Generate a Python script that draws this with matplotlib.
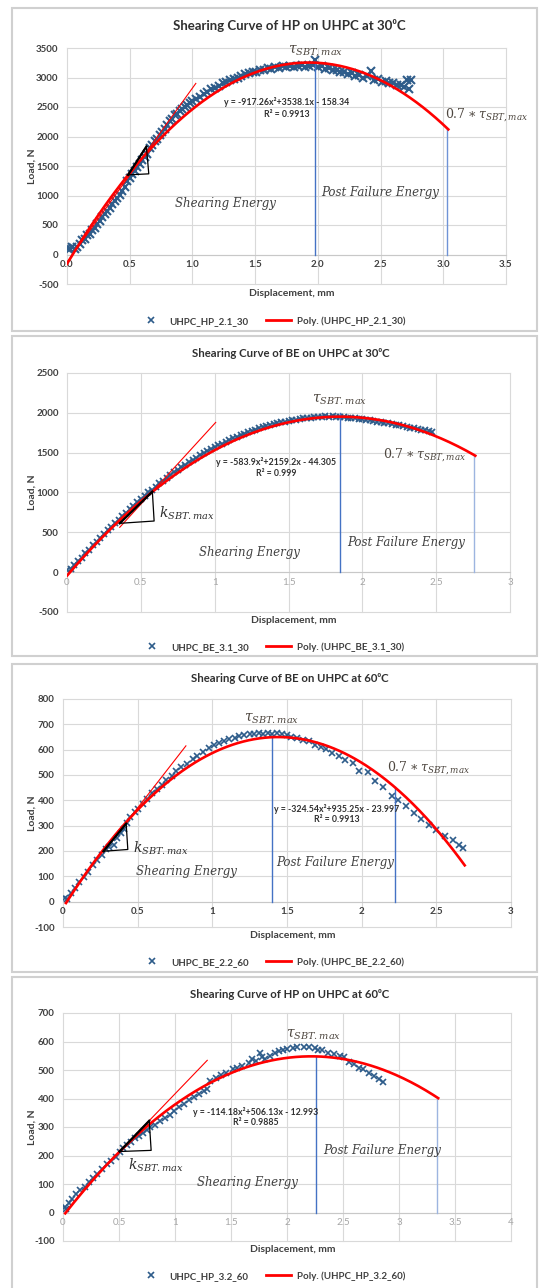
import matplotlib.pyplot as plt
import numpy as np
from matplotlib.lines import Line2D
from matplotlib.patches import Rectangle

plt.rcParams['font.family'] = ['Lato', 'DejaVu Sans']
plt.rcParams['mathtext.fontset'] = 'dejavuserif'

# ---- data ----
hp30_x = [0.00, 0.02, 0.04, 0.06, 0.08, 0.10, 0.12, 0.14, 0.16, 0.18, 0.20, 0.22, 0.24, 0.26,
          0.28, 0.30, 0.32, 0.34, 0.36, 0.38, 0.40, 0.42, 0.44, 0.46, 0.48, 0.50, 0.52, 0.54,
          0.56, 0.58, 0.60, 0.62, 0.64, 0.66, 0.68, 0.70, 0.72, 0.74, 0.76, 0.78, 0.80, 0.82,
          0.84, 0.86, 0.88, 0.90, 0.92, 0.94, 0.96, 0.98, 1.00, 1.03, 1.06, 1.09, 1.12, 1.15,
          1.18, 1.21, 1.24, 1.27, 1.30, 1.33, 1.36, 1.39, 1.42, 1.45, 1.48, 1.51, 1.54, 1.57,
          1.60, 1.63, 1.66, 1.69, 1.72, 1.75, 1.78, 1.81, 1.84, 1.87, 1.90, 1.93, 1.96, 1.98,
          2.00, 2.03, 2.06, 2.09, 2.12, 2.15, 2.18, 2.21, 2.24, 2.27, 2.30, 2.33, 2.36, 2.39,
          2.42, 2.45, 2.48, 2.51, 2.54, 2.57, 2.60, 2.63, 2.66, 2.69, 2.71, 2.73, 2.74]
hp30_y = [110, 90, 120, 100, 130, 170, 240, 260, 330, 350, 420, 450, 520, 560,
          640, 680, 730, 790, 850, 900, 960, 1010, 1080, 1150, 1250, 1300, 1360, 1420,
          1480, 1530, 1600, 1660, 1710, 1800, 1850, 1920, 1960, 2030, 2070, 2120, 2200, 2260,
          2290, 2360, 2380, 2440, 2460, 2500, 2540, 2570, 2600, 2630, 2670, 2720, 2750, 2800,
          2830, 2860, 2900, 2930, 2950, 2970, 2990, 3020, 3060, 3070, 3100, 3090, 3130, 3120,
          3160, 3150, 3180, 3160, 3190, 3170, 3200, 3170, 3190, 3210, 3170, 3200, 3220, 3300,
          3180, 3200, 3150, 3160, 3120, 3130, 3090, 3100, 3060, 3080, 3030, 3050, 3000, 3020,
          3110, 2960, 2970, 2930, 2940, 2900, 2910, 2870, 2880, 2840, 2960, 2800, 2950]

be30_x = [0.000, 0.025, 0.050, 0.075, 0.100, 0.125, 0.150, 0.175, 0.200, 0.225, 0.250, 0.275,
          0.300, 0.325, 0.350, 0.375, 0.400, 0.425, 0.450, 0.475, 0.500, 0.525, 0.550, 0.575,
          0.600, 0.625, 0.650, 0.675, 0.700, 0.725, 0.750, 0.775, 0.800, 0.825, 0.850, 0.875,
          0.900, 0.925, 0.950, 0.975, 1.000, 1.025, 1.050, 1.075, 1.100, 1.125, 1.150, 1.175,
          1.200, 1.225, 1.250, 1.275, 1.300, 1.325, 1.350, 1.375, 1.400, 1.425, 1.450, 1.475,
          1.500, 1.525, 1.550, 1.575, 1.600, 1.625, 1.650, 1.675, 1.700, 1.725, 1.750, 1.775,
          1.800, 1.825, 1.850, 1.875, 1.900, 1.925, 1.950, 1.975, 2.000, 2.025, 2.050, 2.075,
          2.100, 2.125, 2.150, 2.175, 2.200, 2.225, 2.250, 2.275, 2.300, 2.325, 2.350, 2.375,
          2.400, 2.425, 2.450, 2.475]
be30_y = [25, 45, 85, 140, 180, 235, 280, 335, 380, 430, 475, 525,
          565, 615, 655, 700, 745, 790, 835, 875, 915, 960, 1000, 1035,
          1075, 1115, 1150, 1185, 1220, 1255, 1285, 1320, 1350, 1380, 1410, 1435,
          1465, 1490, 1520, 1545, 1570, 1595, 1615, 1640, 1660, 1680, 1700, 1720,
          1740, 1755, 1775, 1790, 1805, 1820, 1835, 1845, 1860, 1870, 1880, 1890,
          1900, 1905, 1915, 1920, 1930, 1935, 1940, 1945, 1945, 1950, 1955, 1950,
          1955, 1950, 1950, 1945, 1940, 1935, 1930, 1925, 1920, 1915, 1905, 1900,
          1890, 1885, 1875, 1870, 1860, 1850, 1845, 1835, 1825, 1815, 1810, 1800,
          1790, 1780, 1775, 1765]

be60_x = [0.015, 0.03, 0.054, 0.08, 0.108, 0.14, 0.17, 0.20, 0.23, 0.26, 0.29, 0.31, 0.34,
          0.36, 0.39, 0.41, 0.43, 0.45, 0.48, 0.50, 0.536, 0.564, 0.597, 0.63, 0.66, 0.69,
          0.727, 0.76, 0.79, 0.83, 0.87, 0.90, 0.94, 0.98, 1.01, 1.045, 1.08, 1.11, 1.15,
          1.18, 1.21, 1.25, 1.28, 1.31, 1.34, 1.37, 1.40, 1.435, 1.468, 1.50, 1.53, 1.57,
          1.61, 1.644, 1.69, 1.726, 1.76, 1.80, 1.85, 1.89, 1.94, 1.98, 2.04, 2.09, 2.14,
          2.20, 2.24, 2.30, 2.35, 2.40, 2.45, 2.50, 2.56, 2.61, 2.65, 2.68]
be60_y = [14, 10, 34, 53, 76, 99, 119, 145, 164, 184, 206, 215, 225,
          250, 270, 285, 310, 334, 353, 366, 386, 405, 428, 445, 461, 480,
          497, 514, 530, 545, 562, 575, 592, 605, 617, 627, 634, 643, 647,
          653, 656, 660, 663, 664, 663, 664, 663, 665, 660, 657, 650, 648,
          638, 634, 618, 610, 601, 588, 574, 559, 546, 516, 510, 477, 454,
          418, 402, 377, 351, 327, 301, 282, 258, 245, 223, 210]

hp60_x = [0.014, 0.03, 0.05, 0.078, 0.115, 0.153, 0.193, 0.23, 0.268, 0.303, 0.346, 0.39,
          0.427, 0.47, 0.505, 0.534, 0.568, 0.606, 0.643, 0.678, 0.713, 0.75, 0.779, 0.822,
          0.865, 0.909, 0.952, 0.995, 1.04, 1.08, 1.125, 1.168, 1.21, 1.255, 1.29, 1.313,
          1.37, 1.413, 1.456, 1.514, 1.558, 1.60, 1.66, 1.688, 1.72, 1.757, 1.78, 1.80,
          1.847, 1.89, 1.93, 1.96, 2.0, 2.05, 2.09, 2.15, 2.2, 2.25, 2.28, 2.31, 2.366,
          2.42, 2.47, 2.51, 2.554, 2.6, 2.64, 2.68, 2.73, 2.78, 2.82, 2.857]
hp60_y = [20, 12, 35, 47, 64, 79, 91, 106, 120, 135, 153, 169,
          182, 196, 214, 226, 238, 249, 261, 267, 279, 291, 299, 308,
          320, 331, 343, 355, 369, 382, 393, 405, 416, 425, 433, 463,
          473, 482, 491, 502, 508, 514, 526, 538, 532, 561, 544, 540,
          549, 558, 565, 571, 573, 576, 579, 581, 582, 576, 571, 569, 561,
          555, 549, 544, 529, 520, 508, 502, 491, 479, 467, 459]

# Excel polynomial trendlines (coefficients as printed) and their x extent
hp30_fit = [-917.26, 3538.1, -158.34]
be30_fit = [-583.9, 2159.2, -44.305]
be60_fit = [-324.54, 935.25, -23.997]
hp60_fit = [-114.18, 506.13, -12.993]
hp30_span = [0.0, 3.04]
be30_span = [0.0, 2.765]
be60_span = [0.02, 2.69]
hp60_span = [0.02, 3.35]

W, H = 539, 1288
BLUE = '#2e5c8a'
TXT = '#404040'
TAU = '#4e4740'

fig = plt.figure(figsize=(W / 100, H / 100), dpi=100)

# chart frames
for top, bot in [(8, 331), (336, 656), (664, 972), (977, 1300)]:
    fig.add_artist(Rectangle((12 / W, 1 - bot / H), 525 / W, (bot - top) / H,
                             transform=fig.transFigure, fill=False,
                             edgecolor='#d0d0d0', lw=1.5))


def fy(px):
    return 1 - px / H


def panel(l, t, r, b, xs, ys, fit, span, xlim, ylim, xt, xtl, yt, xgray,
          title, title_y, title_size, xlab_y, leg_y, name, ms, mew):
    ax = fig.add_axes([l / W, 1 - b / H, (r - l) / W, (b - t) / H])
    for s in ['left', 'right', 'top']:
        ax.spines[s].set_visible(False)
    ax.spines['bottom'].set_position(('data', 0))
    ax.spines['bottom'].set_color('#c8c8c8')
    ax.spines['bottom'].set_linewidth(0.8)
    ax.set_xlim(xlim)
    ax.set_ylim(ylim)
    ax.set_yticks(list(yt), [str(v) for v in yt], fontweight='bold', fontsize=7, color=TXT)
    if xgray:
        ax.set_xticks(xt, xtl, fontsize=7, color='#a6a6a6')
    else:
        ax.set_xticks(xt, xtl, fontsize=7, fontweight='bold', color=TXT)
    ax.grid(True, color='#d9d9d9', lw=0.8)
    ax.set_axisbelow(True)
    for g in ax.get_xgridlines() + ax.get_ygridlines():
        g.set_clip_on(False)
    ax.tick_params(length=0)
    ax.tick_params(axis='y', pad=6)
    ax.tick_params(axis='x', pad=4)

    ax.plot(xs, ys, ls='none', marker='x', ms=ms, mew=mew, color=BLUE, zorder=3)
    cx = np.linspace(span[0], span[1], 300)
    ax.plot(cx, np.polyval(fit, cx), color='#ff0000', lw=1.9, zorder=5)

    cx_mid = (l + r) / 2 / W
    fig.text(cx_mid + 0.005, fy(title_y), title, ha='center', va='center',
             fontsize=title_size, fontweight='bold', color='#303030')
    fig.text(cx_mid + 0.01, fy(xlab_y), 'Displacement, mm', ha='center', va='center',
             fontsize=7.5, fontweight='bold', color=TXT)
    fig.text(32 / W, fy((t + b) / 2), 'Load, N', ha='center', va='center',
             rotation=90, fontsize=7.5, fontweight='bold', color=TXT)
    handles = [Line2D([], [], ls='none', marker='x', ms=4, mew=1.2, color=BLUE),
               Line2D([], [], color='#ff0000', lw=2)]
    leg = ax.legend(handles, [name, 'Poly. (' + name + ')'], loc='center',
                    bbox_to_anchor=(272 / W, fy(leg_y)), bbox_transform=fig.transFigure,
                    ncol=2, frameon=False, handlelength=2.6, columnspacing=1.8,
                    handletextpad=0.6, prop={'size': 7, 'weight': 'bold'})
    for tx in leg.get_texts():
        tx.set_color(TXT)
    return ax


def marks(ax, tang, tri, vl1, vl2, vl2c, eq, eq_xy, r2, tau_xy, tau_s, seven_xy,
          k_xy, se_xy, pf_xy, ann_size):
    ax.plot(tang[0], tang[1], color='#ff0000', lw=0.8, zorder=4)
    tx = tri[0] + [tri[0][0]]
    ty = tri[1] + [tri[1][0]]
    ax.plot(tx, ty, color='black', lw=0.9, zorder=6)
    ax.plot([tri[0][0], tri[0][1]], [tri[1][0], tri[1][1]], color='black', lw=1.6, zorder=6)
    ax.plot([vl1[0], vl1[0]], [0, vl1[1]], color='#4472c4', lw=1.0, zorder=4)
    ax.plot([vl2[0], vl2[0]], [0, vl2[1]], color=vl2c, lw=1.0, zorder=4)
    ax.text(eq_xy[0], eq_xy[1], eq, ha='center', va='center', fontsize=6.3,
            fontweight='bold', color='#303030', zorder=7)
    ax.text(eq_xy[0], eq_xy[1] - r2[1], r2[0], ha='center', va='center', fontsize=6.3,
            fontweight='bold', color='#303030', zorder=7)
    ax.text(tau_xy[0], tau_xy[1], tau_s, ha='center', va='center', fontsize=ann_size + 1.5,
            color=TAU, zorder=7)
    if seven_xy is not None:
        ax.text(seven_xy[0], seven_xy[1], r'$0.7 \ast \tau_{SBT,max}$', ha='left',
                va='center', fontsize=ann_size + 0.5, color=TAU, clip_on=False, zorder=7)
    if k_xy is not None:
        ax.text(k_xy[0], k_xy[1], r'$k_{SBT.max}$', ha='left', va='center',
                fontsize=ann_size + 1.5, color='#303030', zorder=7)
    ax.text(se_xy[0], se_xy[1], 'Shearing Energy', ha='center', va='center',
            fontsize=ann_size, family='DejaVu Serif', style='italic', color=TXT, zorder=7)
    ax.text(pf_xy[0], pf_xy[1], 'Post Failure Energy', ha='center', va='center',
            fontsize=ann_size, family='DejaVu Serif', style='italic', color=TXT, zorder=7)


# ---- panel 1 ----
ax1 = panel(67, 48, 506, 284, hp30_x, hp30_y, hp30_fit, hp30_span, (0, 3.5), (-500, 3500),
            [0, 0.5, 1, 1.5, 2, 2.5, 3, 3.5],
            ['0.0', '0.5', '1.0', '1.5', '2.0', '2.5', '3.0', '3.5'],
            range(-500, 3501, 500), False,
            'Shearing Curve of HP on UHPC at 30\u2070C', 26, 9.5, 293, 321, 'UHPC_HP_2.1_30',
            6, 1.5)
marks(ax1, ([0.0, 1.027], [-130, 2900]),
      ([0.487, 0.633, 0.652], [1350, 1830, 1367]),
      (1.976, 3250), (3.03, 2121), '#6f93d6',
      'y = -917.26x\u00b2+3538.1x - 158.34', (1.75, 2577), ('R\u00b2 = 0.9913', 200),
      (1.98, 3440), r'$\tau_{SBT,max}$', (3.01, 2370),
      None, (1.26, 872), (2.50, 1052), 8.5)

# ---- panel 2 ----
ax2 = panel(67, 373, 510, 612, be30_x, be30_y, be30_fit, be30_span, (0, 3), (-500, 2500),
            [0, 0.5, 1, 1.5, 2, 2.5, 3], ['0', '0.5', '1', '1.5', '2', '2.5', '3'],
            range(-500, 2501, 500), True,
            'Shearing Curve of BE on UHPC at 30\u2070C', 353, 8.2, 620, 647, 'UHPC_BE_3.1_30',
            5, 1.3)
marks(ax2, ([0.357, 1.007], [563, 1880]),
      ([0.357, 0.578, 0.59], [613, 1011, 642]),
      (1.848, 2000), (2.758, 1460), '#9db5e0',
      'y = -583.9x\u00b2+2159.2x - 44.305', (1.414, 1380), ('R\u00b2 = 0.999', 146),
      (1.848, 2165), r'$\tau_{SBT.max}$', (2.14, 1473),
      (0.623, 738), (1.238, 243), (2.295, 373), 8.5)

# ---- panel 3 ----
ax3 = panel(63, 699, 511, 927, be60_x, be60_y, be60_fit, be60_span, (0, 3), (-100, 800),
            [0, 0.5, 1, 1.5, 2, 2.5, 3], ['0', '0.5', '1', '1.5', '2', '2.5', '3'],
            range(-100, 801, 100), False,
            'Shearing Curve of BE on UHPC at 60\u2070C', 679, 8.2, 936, 962, 'UHPC_BE_2.2_60',
            3.8, 1.2)
marks(ax3, ([0.27, 0.823], [196, 615]),
      ([0.271, 0.423, 0.434], [199, 308, 206]),
      (1.40, 649), (2.22, 452), '#4472c4',
      'y = -324.54x\u00b2+935.25x - 23.997', (1.834, 365), ('R\u00b2 = 0.9913', 42),
      (1.40, 721), r'$\tau_{SBT.max}$', (2.168, 527),
      (0.468, 212), (0.825, 120), (1.822, 156), 8.5)

# ---- panel 4 ----
ax4 = panel(63, 1013, 511, 1241, hp60_x, hp60_y, hp60_fit, hp60_span, (0, 4), (-100, 700),
            [0, 0.5, 1, 1.5, 2, 2.5, 3, 3.5, 4],
            ['0', '0.5', '1', '1.5', '2', '2.5', '3', '3.5', '4'],
            range(-100, 701, 100), True,
            'Shearing Curve of HP on UHPC at 60\u2070C', 994, 8.2, 1249, 1276, 'UHPC_HP_3.2_60',
            3.8, 1.2)
marks(ax4, ([0.505, 1.288], [214, 534]),
      ([0.505, 0.77, 0.787], [214, 322, 218]),
      (2.258, 548), (3.336, 400), '#9db5e0',
      'y = -114.18x\u00b2+506.13x - 12.993', (1.72, 354), ('R\u00b2 = 0.9885', 38),
      (2.234, 623), r'$\tau_{SBT.max}$', None,
      (0.58, 166), (1.647, 104), (2.853, 219), 8.5)

fig.savefig('out.png', dpi=100)
